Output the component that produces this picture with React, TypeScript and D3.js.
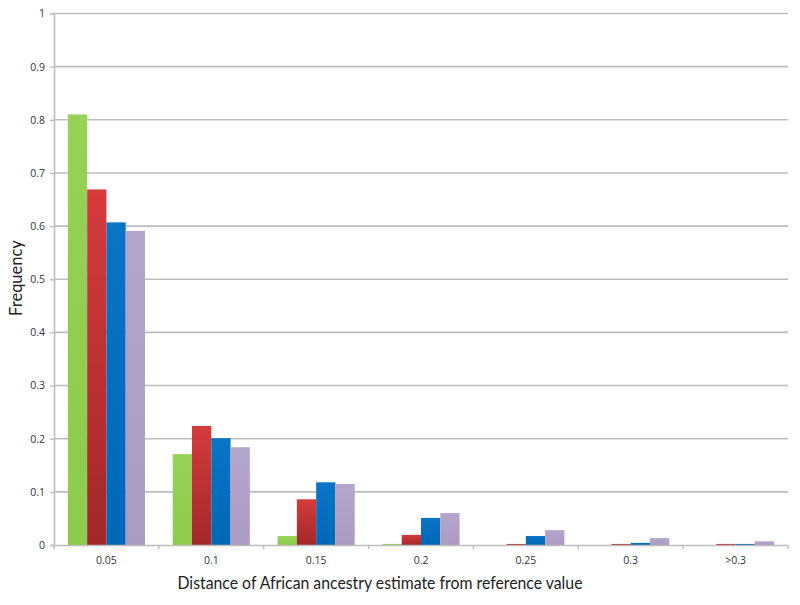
import React, { useEffect, useRef } from 'react';
import * as d3 from 'd3';

const categories = ['0.05', '0.1', '0.15', '0.2', '0.25', '0.3', '>0.3'];
const seriesA = [0.81, 0.171, 0.017, 0.002, 0, 0, 0];
const seriesB = [0.669, 0.224, 0.086, 0.019, 0.002, 0.002, 0.002];
const seriesC = [0.607, 0.201, 0.118, 0.051, 0.017, 0.004, 0.002];
const seriesD = [0.591, 0.184, 0.115, 0.06, 0.028, 0.013, 0.007];
const yTicks = [0, 0.1, 0.2, 0.3, 0.4, 0.5, 0.6, 0.7, 0.8, 0.9, 1];

const App = () => {
  const svgRef = useRef<SVGSVGElement>(null);

  useEffect(() => {
    const width = 800;
    const height = 605;
    const left = 54, right = 788, top = 13.5, bottom = 545;
    const svg = d3.select(svgRef.current).attr('width', width).attr('height', height);
    svg.selectAll('*').remove();

    const defs = svg.append('defs');
    const fills = [
      ['#96d255', '#8ccb4c'],
      ['#d53c3c', '#a3282a'],
      ['#0a74c6', '#0068b6'],
      ['#b5a5cb', '#ab9bc3'],
    ];
    fills.forEach((f, i) => {
      const g = defs.append('linearGradient').attr('id', 'g' + i)
        .attr('x1', 0).attr('y1', 0).attr('x2', 0).attr('y2', 1);
      g.append('stop').attr('offset', '0%').attr('stop-color', f[0]);
      g.append('stop').attr('offset', '100%').attr('stop-color', f[1]);
    });

    const x0 = d3.scaleBand().domain(categories).range([left, right]).paddingInner(0).paddingOuter(0);
    const series = [seriesA, seriesB, seriesC, seriesD];
    const x1 = d3.scaleBand<number>().domain([0, 1, 2, 3]).range([0, x0.bandwidth()]).paddingOuter(0.72).paddingInner(0);
    const y = d3.scaleLinear().domain([0, 1]).range([bottom, top]);

    // gridlines
    svg.append('g').selectAll('line').data(yTicks.filter(t => t > 0)).join('line')
      .attr('x1', left).attr('x2', right)
      .attr('y1', d => y(d)).attr('y2', d => y(d))
      .attr('stroke', '#bdbdbd').attr('stroke-width', 1.6);

    // bars
    categories.forEach((c, ci) => {
      const g = svg.append('g').attr('transform', `translate(${x0(c)},0)`);
      series.forEach((s, si) => {
        const v = s[ci];
        if (v <= 0) return;
        g.append('rect')
          .attr('x', x1(si)!)
          .attr('y', y(v))
          .attr('width', x1.bandwidth())
          .attr('height', Math.max(bottom - y(v), 1))
          .attr('fill', `url(#g${si})`);
      });
    });

    // y axis
    const yAxis = d3.axisLeft(y).tickValues(yTicks).tickSize(4).tickPadding(5).tickFormat(d => d3.format('')(d as number));
    const ya = svg.append('g').attr('transform', `translate(${left},0)`).call(yAxis);
    ya.select('.domain').attr('stroke', '#bdbdbd').attr('stroke-width', 1.6);
    ya.selectAll('.tick line').attr('stroke', '#bdbdbd').attr('stroke-width', 1.4);
    ya.selectAll('.tick text').attr('font-family', '"Open Sans", sans-serif').attr('font-size', 10.5).attr('fill', '#333');

    // x axis
    const xa = svg.append('g').attr('transform', `translate(0,${bottom})`)
      .call(d3.axisBottom(x0).tickSize(0).tickPadding(12));
    xa.select('.domain').attr('stroke', '#bdbdbd').attr('stroke-width', 1.6);
    xa.selectAll('.tick text').attr('font-family', '"Open Sans", sans-serif').attr('font-size', 10.5).attr('fill', '#333');
    const bounds = categories.map(c => x0(c)!).concat([right]);
    xa.append('g').selectAll('line').data(bounds).join('line')
      .attr('x1', d => d).attr('x2', d => d).attr('y1', 0).attr('y2', 4)
      .attr('stroke', '#bdbdbd').attr('stroke-width', 1.4);

    svg.append('text').attr('x', 380).attr('y', 589).attr('text-anchor', 'middle')
      .attr('font-family', 'Lato, sans-serif').attr('font-size', 17.5).attr('fill', '#222')
      .attr('textLength', 405).attr('lengthAdjust', 'spacingAndGlyphs')
      .text('Distance of African ancestry estimate from reference value');
    svg.append('text').attr('transform', 'translate(22,278) rotate(-90)').attr('text-anchor', 'middle')
      .attr('font-family', 'Lato, sans-serif').attr('font-size', 16.5).attr('fill', '#222')
      .text('Frequency');
  }, []);

  return <svg ref={svgRef} style={{ position: 'absolute', left: 0, top: 0, background: '#fff' }} />;
};

export default App;
